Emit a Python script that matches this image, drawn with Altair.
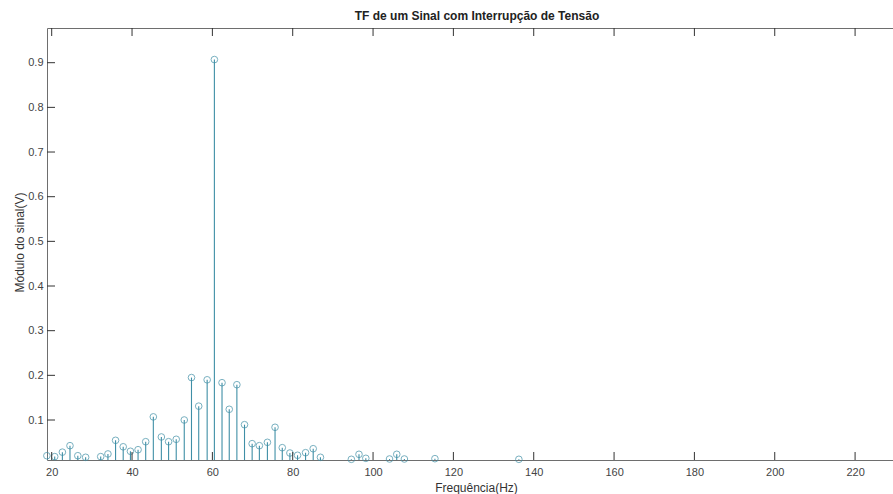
import altair as alt
import pandas as pd

# Stem data (frequency in Hz, magnitude in V)
freqs = [18.8, 20.75, 22.66, 24.55, 26.5, 28.45, 32.2, 34.0, 35.9, 37.8, 39.6,
         41.5, 43.4, 45.3, 47.3, 49.1, 51.0, 53.0, 54.8, 56.6, 58.7, 60.5,
         62.4, 64.2, 66.1, 68.0, 69.9, 71.7, 73.7, 75.6, 77.4, 79.3, 81.2,
         83.2, 85.1, 86.9, 94.6, 96.5, 98.2, 104.1, 105.9, 107.8, 115.4, 136.3]
mags = [0.020, 0.018, 0.028, 0.0425, 0.020, 0.0165, 0.018, 0.024, 0.0545, 0.040, 0.030,
        0.0335, 0.0514, 0.107, 0.062, 0.0514, 0.0568, 0.100, 0.195, 0.131, 0.190, 0.907,
        0.1835, 0.124, 0.179, 0.0895, 0.047, 0.0425, 0.050, 0.0837, 0.038, 0.0261, 0.021,
        0.0268, 0.0357, 0.0165, 0.012, 0.0232, 0.0142, 0.0127, 0.0232, 0.0127, 0.0134, 0.012]

x_ticks = [20, 40, 60, 80, 100, 120, 140, 160, 180, 200, 220]
y_ticks = [0.1, 0.2, 0.3, 0.4, 0.5, 0.6, 0.7, 0.8, 0.9]

title_text = "TF de um Sinal com Interrupção de Tensão"
x_title = "Frequência(Hz)"
y_title = "Módulo do sinal(V)"

W, H = 846, 432
FONT = "Liberation Sans"
STEM = "#3f8fa6"
TICK = "#333333"

df = pd.DataFrame({"f": freqs, "m": mags})
xt = pd.DataFrame({"t": x_ticks})
yt = pd.DataFrame({"t": y_ticks})

xs = alt.Scale(domain=[18.83, 229.44], nice=False, zero=False)
ys = alt.Scale(domain=[0.01044, 0.9777], nice=False, zero=False)

x_axis = alt.Axis(values=x_ticks, format="d", ticks=False, domain=False, grid=False,
                  labelPadding=6, labelFontSize=11, labelColor="#444444", labelFont=FONT,
                  title=x_title, titleFont=FONT, titleFontSize=12, titleFontWeight="normal",
                  titleColor="#333333", titleX=429, titleY=31, titleBaseline="alphabetic",
                  titleAlign="center")
y_axis = alt.Axis(values=y_ticks, format=".1f", ticks=False, domain=False, grid=False,
                  labelPadding=4, labelFontSize=11, labelColor="#444444", labelFont=FONT,
                  title=y_title, titleFont=FONT, titleFontSize=12, titleFontWeight="normal",
                  titleColor="#333333", titleX=-24, titleY=214, titleBaseline="alphabetic",
                  titleAngle=-90, titleAlign="center")

stems = alt.Chart(df).mark_rule(color=STEM, strokeWidth=1.1, clip=True).encode(
    x=alt.X("f:Q", scale=xs, axis=x_axis),
    y=alt.Y("m:Q", scale=ys, axis=y_axis),
    y2=alt.datum(0),
)

points = alt.Chart(df).mark_point(shape="circle", filled=False, color=STEM,
                                  size=44, strokeWidth=1).encode(
    x=alt.X("f:Q", scale=xs),
    y=alt.Y("m:Q", scale=ys),
)

bottom_ticks = alt.Chart(xt).mark_rule(color=TICK, strokeWidth=1).encode(
    x=alt.X("t:Q", scale=xs), y=alt.value(H), y2=alt.value(H - 8))
top_ticks = alt.Chart(xt).mark_rule(color=TICK, strokeWidth=1).encode(
    x=alt.X("t:Q", scale=xs), y=alt.value(0), y2=alt.value(8))
left_ticks = alt.Chart(yt).mark_rule(color=TICK, strokeWidth=1).encode(
    y=alt.Y("t:Q", scale=ys), x=alt.value(0), x2=alt.value(8))

chart = alt.layer(stems, points, bottom_ticks, top_ticks, left_ticks).properties(
    width=W, height=H,
    title=alt.TitleParams(title_text, font=FONT, fontSize=12, fontWeight="bold",
                          color="#222222", anchor="middle", offset=5, dx=7),
    autosize=alt.AutoSizeParams(type="none"),
    padding={"left": 47, "top": 28, "right": 0, "bottom": 34},
    background="white",
).configure_view(stroke="#6e6e6e", strokeWidth=1)

chart.save("out.html", embed_options={"renderer": "svg", "actions": False})
